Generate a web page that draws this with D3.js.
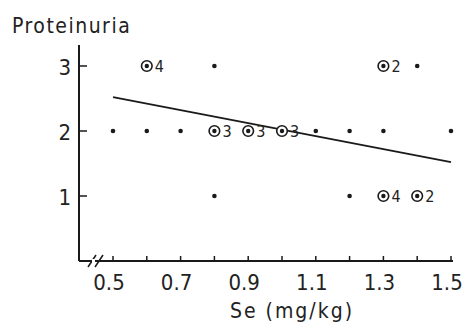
<!DOCTYPE html>
<html>
<head>
<meta charset="utf-8">
<script src="https://cdn.jsdelivr.net/npm/d3@7"></script>
<style>
  body { margin: 0; background: #fff; }
  text { font-family: "DejaVu Sans Condensed", "Liberation Sans Narrow", sans-serif; fill: #222; }
</style>
</head>
<body>
<div id="viz"></div>
<script>
// single observations
const dotSe = [0.8, 1.4, 0.5, 0.6, 0.7, 1.1, 1.2, 1.3, 1.5, 0.8, 1.2];
const dotProt = [3, 3, 2, 2, 2, 2, 2, 2, 2, 1, 1];

// grouped observations (circled, with count)
const groupSe = [0.6, 1.3, 0.8, 0.9, 1.0, 1.3, 1.4];
const groupProt = [3, 3, 2, 2, 2, 1, 1];
const groupN = [4, 2, 3, 3, 3, 4, 2];

// regression line end points
const fitSe = [0.5, 1.5];
const fitProt = [2.52, 1.52];

const xTicks = [0.5, 0.6, 0.7, 0.8, 0.9, 1.0, 1.1, 1.2, 1.3, 1.4, 1.5];
const xLabels = [0.5, 0.7, 0.9, 1.1, 1.3, 1.5];
const yTicks = [1, 2, 3];

const W = 469, H = 322;
const svg = d3.select('#viz').append('svg').attr('width', W).attr('height', H);

const x = d3.scaleLinear().domain([0.5, 1.5]).range([113, 451]);
const y = d3.scaleLinear().domain([1, 3]).range([196, 66]);
const axisX = 79, axisY = 261;
const ink = '#1a1a1a';

// axes lines
svg.append('line').attr('x1', axisX).attr('x2', axisX).attr('y1', 45).attr('y2', axisY)
  .attr('stroke', ink).attr('stroke-width', 2);
svg.append('line').attr('x1', axisX).attr('x2', 453).attr('y1', axisY).attr('y2', axisY)
  .attr('stroke', ink).attr('stroke-width', 2);

// x ticks (inward)
svg.selectAll('.xt').data(xTicks).enter().append('line')
  .attr('x1', d => x(d)).attr('x2', d => x(d))
  .attr('y1', axisY).attr('y2', axisY - 5)
  .attr('stroke', ink).attr('stroke-width', 1.5);
svg.selectAll('.xl').data(xLabels).enter().append('text')
  .attr('x', d => x(d) - 4).attr('y', 290)
  .attr('text-anchor', 'middle').attr('font-size', 22)
  .text(d => d.toFixed(1));

// y ticks (inward)
svg.selectAll('.yt').data(yTicks).enter().append('line')
  .attr('x1', axisX).attr('x2', axisX + 8)
  .attr('y1', d => y(d)).attr('y2', d => y(d))
  .attr('stroke', ink).attr('stroke-width', 1.5);
svg.selectAll('.yl').data(yTicks).enter().append('text')
  .attr('x', 71).attr('y', d => y(d) + 8.5)
  .attr('text-anchor', 'end').attr('font-size', 22)
  .text(d => d);

// axis break
[0, 7].forEach(o => {
  svg.append('line').attr('x1', 88 + o).attr('y1', 267).attr('x2', 96 + o).attr('y2', 255)
    .attr('stroke', ink).attr('stroke-width', 1.5);
});
svg.append('rect').attr('x', 92).attr('y', 259).attr('width', 3).attr('height', 4).attr('fill', '#fff');

// titles
svg.append('text').attr('x', 12).attr('y', 33).attr('font-size', 21)
  .attr('letter-spacing', 1.5).text('Proteinuria');
svg.append('text').attr('x', 292).attr('y', 318).attr('text-anchor', 'middle')
  .attr('font-size', 21).attr('letter-spacing', 2).text('Se (mg/kg)');

// regression line
svg.append('line')
  .attr('x1', x(fitSe[0])).attr('y1', y(fitProt[0]))
  .attr('x2', x(fitSe[1])).attr('y2', y(fitProt[1]))
  .attr('stroke', ink).attr('stroke-width', 1.8);

// single dots
svg.selectAll('.dot').data(dotSe).enter().append('circle')
  .attr('cx', d => x(d)).attr('cy', (d, i) => y(dotProt[i]))
  .attr('r', 2.3).attr('fill', ink);

// grouped markers
const g = svg.selectAll('.grp').data(groupSe).enter().append('g');
g.append('circle').attr('cx', d => x(d)).attr('cy', (d, i) => y(groupProt[i]))
  .attr('r', 5.3).attr('fill', '#fff').attr('stroke', ink).attr('stroke-width', 1.6);
g.append('circle').attr('cx', d => x(d)).attr('cy', (d, i) => y(groupProt[i]))
  .attr('r', 2.2).attr('fill', ink);
g.append('text').attr('x', d => x(d) + 8).attr('y', (d, i) => y(groupProt[i]) + 6)
  .attr('font-size', 16).text((d, i) => groupN[i]);
</script>
</body>
</html>
